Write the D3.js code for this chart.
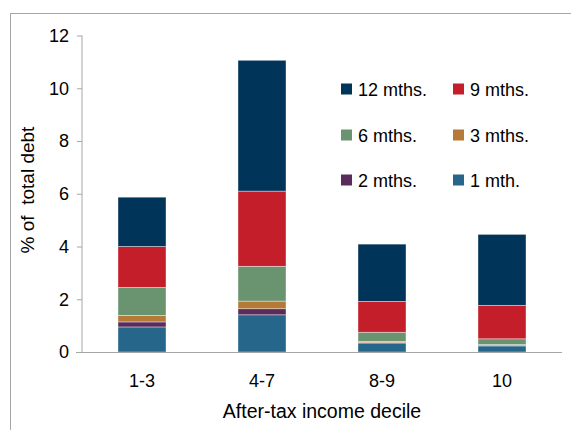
<!DOCTYPE html>
<html><head><meta charset="utf-8">
<script src="https://cdn.jsdelivr.net/npm/d3@7"></script>
<style>body{margin:0;background:#fff}svg{display:block}text{font-family:"Liberation Sans",Arial,sans-serif;fill:#000}</style>
</head><body>
<svg id="chart" width="571" height="430"></svg>
<script>
const categories = ["1-3", "4-7", "8-9", "10"];
const seriesNames = ["1 mth.", "2 mths.", "3 mths.", "6 mths.", "9 mths.", "12 mths."];
const oneMonth    = [0.95, 1.41, 0.34, 0.23];
const twoMonths   = [0.19, 0.23, 0.02, 0.03];
const threeMonths = [0.25, 0.29, 0.04, 0.02];
const sixMonths   = [1.06, 1.32, 0.35, 0.22];
const nineMonths  = [1.55, 2.85, 1.17, 1.27];
const twelveMonths= [1.87, 4.96, 2.17, 2.69];
const yTicks = [0, 2, 4, 6, 8, 10, 12];
const colors = ["#26668a", "#5a2c5c", "#b67a38", "#6a9470", "#c41e2a", "#003459"];
const legendOrder = ["12 mths.", "9 mths.", "6 mths.", "3 mths.", "2 mths.", "1 mth."];

const seriesValues = [oneMonth, twoMonths, threeMonths, sixMonths, nineMonths, twelveMonths];
const rows = categories.map((c, i) => {
  const r = {cat: c};
  seriesNames.forEach((s, j) => r[s] = seriesValues[j][i]);
  return r;
});
const stack = d3.stack().keys(seriesNames)(rows);
const color = d3.scaleOrdinal().domain(seriesNames).range(colors);

const svg = d3.select("#chart");
// outer border
svg.append("rect").attr("x", 10.5).attr("y", 13.5).attr("width", 600).attr("height", 500)
  .attr("fill", "none").attr("stroke", "#a6a6a6").attr("stroke-width", 1);

const x = d3.scaleBand().domain(categories).range([82, 562]).paddingInner(0.6).paddingOuter(0.3);
const y = d3.scaleLinear().domain([0, 12]).range([352, 35.5]);

// bars
svg.append("g").selectAll("g").data(stack).join("g")
  .attr("fill", d => color(d.key))
  .selectAll("rect").data(d => d).join("rect")
  .attr("x", d => x(d.data.cat))
  .attr("width", x.bandwidth())
  .attr("y", d => y(d[1]))
  .attr("height", d => y(d[0]) - y(d[1]))
  .attr("stroke", "rgba(255,255,255,0.55)")
  .attr("stroke-width", 0.7);

// y axis
const yAxis = svg.append("g").attr("transform", "translate(82,0)")
  .call(d3.axisLeft(y).tickValues(yTicks).tickSize(5).tickPadding(8).tickFormat(d3.format("d")));
yAxis.select(".domain").attr("stroke", "#a6a6a6").attr("d", `M0,${y(12)}V${y(0)}`);
yAxis.selectAll(".tick line").attr("stroke", "#a6a6a6");
yAxis.selectAll(".tick text").attr("font-size", 18).attr("font-family", "Liberation Sans, Arial, sans-serif").attr("fill", "#000");

// x axis
const xAxis = svg.append("g").attr("transform", `translate(0,${y(0)})`)
  .call(d3.axisBottom(x).tickSize(0).tickPadding(22));
xAxis.select(".domain").attr("stroke", "#a6a6a6").attr("d", "M76,0.5H562");
xAxis.selectAll(".tick text").attr("font-size", 18).attr("font-family", "Liberation Sans, Arial, sans-serif").attr("fill", "#000");

// axis titles
svg.append("text").attr("x", 322).attr("y", 418).attr("text-anchor", "middle")
  .attr("font-size", 19.5).text("After-tax income decile");
svg.append("text").attr("transform", "translate(34,190) rotate(-90)")
  .attr("text-anchor", "middle").attr("font-size", 19).style("white-space", "pre")
  .text("% of  total debt");

// legend
const legendPos = [[341, 89], [453, 89], [341, 135], [453, 135], [341, 180], [453, 180]];
const lg = svg.append("g").selectAll("g").data(legendOrder).join("g")
  .attr("transform", (d, i) => `translate(${legendPos[i][0]},${legendPos[i][1]})`);
lg.append("rect").attr("x", 0).attr("y", -5.5).attr("width", 11).attr("height", 11).attr("fill", d => color(d));
lg.append("text").attr("x", 17).attr("y", 6.5).attr("font-size", 18).text(d => d);
</script>
</body></html>
